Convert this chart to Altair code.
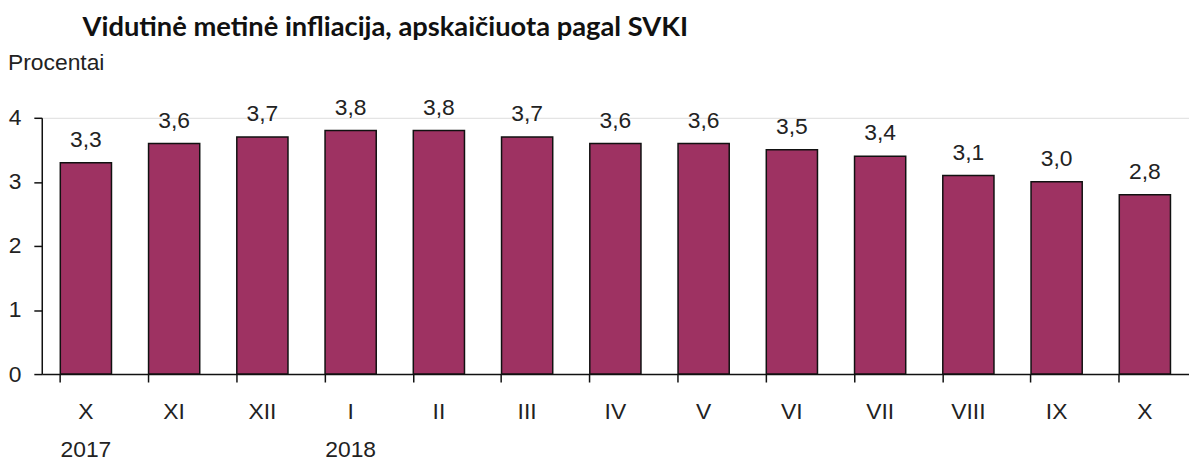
import altair as alt
import pandas as pd

months = ["X", "XI", "XII", "I", "II", "III", "IV", "V", "VI", "VII", "VIII", "IX", "X "]
values = [3.3, 3.6, 3.7, 3.8, 3.8, 3.7, 3.6, 3.6, 3.5, 3.4, 3.1, 3.0, 2.8]
labels = [f"{v:.1f}".replace(".", ",") for v in values]
years = ["2017", "2018"]
year_at = ["X", "I"]

df = pd.DataFrame({"m": months, "v": values, "lab": labels})
W, H = 1155, 258
font = "Liberation Sans"
fs = 23

xsc = alt.Scale(domain=months, paddingInner=0.42, paddingOuter=0.21)
ysc = alt.Scale(domain=[0, 4])

base = alt.Chart(df)
bars = base.mark_bar(color="#9e3262", stroke="#111", strokeWidth=1.5).encode(
    x=alt.X("m:N", sort=months, scale=xsc,
            axis=alt.Axis(title=None, labelAngle=0, labelFont=font, labelFontSize=fs,
                          labelColor="#222", labelPadding=19, tickSize=8, tickColor="#111",
                          domainColor="#111", tickWidth=1.5, domainWidth=1.5, bandPosition=0,
                          labelExpr="trim(datum.value)")),
    y=alt.Y("v:Q", scale=ysc,
            axis=alt.Axis(title=None, values=[0, 1, 2, 3, 4], format="d", grid=False, labelFont=font,
                          labelFontSize=fs, labelColor="#222", labelPadding=13, tickSize=8,
                          tickColor="#111", domainColor="#111", tickWidth=1.5, domainWidth=1.5)),
)
text = base.mark_text(font=font, fontSize=fs, color="#222", baseline="bottom", dy=-11).encode(
    x=alt.X("m:N", sort=months, scale=xsc), y=alt.Y("v:Q", scale=ysc), text="lab:N"
)
ydf = pd.DataFrame({"m": year_at, "t": years})
yr = alt.Chart(ydf).mark_text(font=font, fontSize=fs, color="#222", baseline="middle").encode(
    x=alt.X("m:N", sort=months, scale=xsc), y=alt.value(334), text="t:N"
)
title = alt.Chart(pd.DataFrame({"t": ["Vidutinė metinė infliacija, apskaičiuota pagal SVKI"]})).mark_text(
    font="Lato", fontWeight="bold", fontSize=27.5, color="#111", align="left", baseline="alphabetic"
).encode(x=alt.value(41), y=alt.value(-82), text="t:N")
unit = alt.Chart(pd.DataFrame({"t": ["Procentai"]})).mark_text(
    font=font, fontSize=23, color="#222", align="left", baseline="alphabetic"
).encode(x=alt.value(-34), y=alt.value(-48), text="t:N")

chart = alt.layer(bars, text, yr, title, unit).properties(
    width=W, height=H, autosize=alt.AutoSizeParams(type="none"),
    padding={"left": 34, "top": 109, "right": 0, "bottom": 89},
).configure_view(stroke=None).configure(background="white")

chart.save("out.html", embed_options={"renderer": "svg", "actions": False})
